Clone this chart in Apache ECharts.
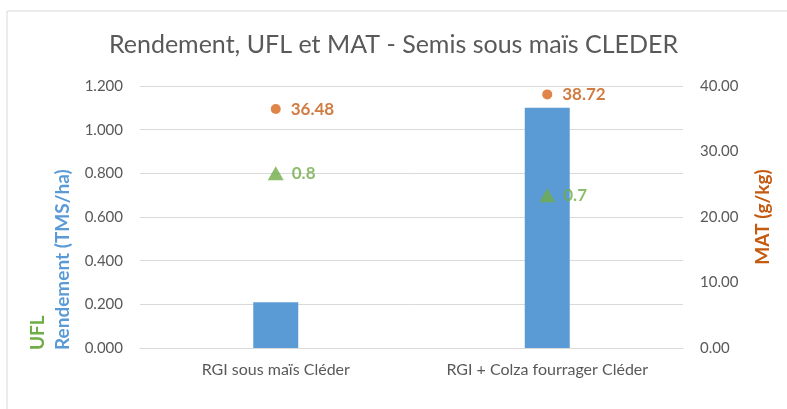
<!DOCTYPE html>
<html>
<head>
<meta charset="utf-8">
<script src="https://cdn.jsdelivr.net/npm/echarts@6/dist/echarts.min.js"></script>
<style>
  html, body { margin: 0; padding: 0; background: #fff; }
  #main { width: 787px; height: 409px; }
</style>
</head>
<body>
<div id="main"></div>
<script>
// données
var categories = ['RGI sous maïs Cléder', 'RGI + Colza fourrager Cléder'];
var rendement = [0.21, 1.10];
var ufl = [0.8, 0.7];
var mat = [36.48, 38.72];
var leftTicks = [0, 1.2, 0.2];
var rightTicks = [0, 40, 10];

var police = 'Lato, "Open Sans", sans-serif';
var gris = '#595959';

var myChart = echarts.init(document.getElementById('main'));

var option = {
    animation: false,
    textStyle: { fontFamily: police },
    title: {
        text: 'Rendement, UFL et MAT - Semis sous maïs CLEDER',
        left: 'center',
        top: 27,
        textStyle: { fontFamily: police, fontSize: 25, fontWeight: 'normal', color: gris }
    },
    grid: { left: 140, right: 104, top: 86, bottom: 61, containLabel: false },
    xAxis: {
        type: 'category',
        data: categories,
        axisLine: { show: true, lineStyle: { color: '#d9d9d9' } },
        axisTick: { show: false },
        axisLabel: { color: gris, fontSize: 16, margin: 14, fontFamily: police }
    },
    yAxis: [
        {
            type: 'value',
            min: leftTicks[0], max: leftTicks[1], interval: leftTicks[2],
            axisLine: { show: false },
            axisTick: { show: false },
            splitLine: { lineStyle: { color: '#d9d9d9' } },
            axisLabel: {
                color: gris, fontSize: 15, margin: 17, fontFamily: police,
                formatter: function (v) { return v.toFixed(3); }
            }
        },
        {
            type: 'value',
            min: rightTicks[0], max: rightTicks[1], interval: rightTicks[2],
            axisLine: { show: false },
            axisTick: { show: false },
            splitLine: { show: false },
            axisLabel: {
                color: gris, fontSize: 15, margin: 17, fontFamily: police,
                formatter: function (v) { return v.toFixed(2); }
            },
            name: 'MAT (g/kg)',
            nameLocation: 'middle',
            nameRotate: 90,
            nameGap: 70,
            nameTextStyle: { color: '#c55a11', fontWeight: 'bold', fontSize: 19, fontFamily: police }
        }
    ],
    graphic: [
        {
            type: 'rect',
            shape: { x: 7, y: 11, width: 800, height: 420 },
            style: { fill: 'none', stroke: '#d9d9d9', lineWidth: 1 },
            silent: true
        },
        {
            type: 'text',
            x: 53, y: 350, rotation: Math.PI / 2,
            style: {
                text: 'Rendement (TMS/ha)', fill: '#5b9bd5',
                font: 'bold 19px ' + police, align: 'left', verticalAlign: 'top'
            }
        },
        {
            type: 'text',
            x: 28, y: 350, rotation: Math.PI / 2,
            style: {
                text: 'UFL', fill: '#70ad47',
                font: 'bold 19px ' + police, align: 'left', verticalAlign: 'top'
            }
        }
    ],
    series: [
        {
            name: 'Rendement',
            type: 'bar',
            yAxisIndex: 0,
            barWidth: 45,
            itemStyle: { color: '#5b9bd5' },
            data: rendement,
            z: 1
        },
        {
            name: 'UFL',
            type: 'scatter',
            yAxisIndex: 0,
            symbol: 'triangle',
            symbolSize: [16, 14],
            itemStyle: { color: '#70ad47' },
            label: {
                show: true, position: 'right', distance: 8,
                color: '#70ad47', fontWeight: 'bold', fontSize: 17, fontFamily: police
            },
            data: ufl,
            z: 3
        },
        {
            name: 'MAT',
            type: 'scatter',
            yAxisIndex: 1,
            symbol: 'circle',
            symbolSize: 10,
            itemStyle: { color: '#d9651b' },
            label: {
                show: true, position: 'right', distance: 10,
                color: '#c55a11', fontWeight: 'bold', fontSize: 17, fontFamily: police,
                formatter: function (p) { return p.value.toFixed(2); }
            },
            data: mat,
            z: 3
        }
    ]
};

myChart.setOption(option);
</script>
</body>
</html>
